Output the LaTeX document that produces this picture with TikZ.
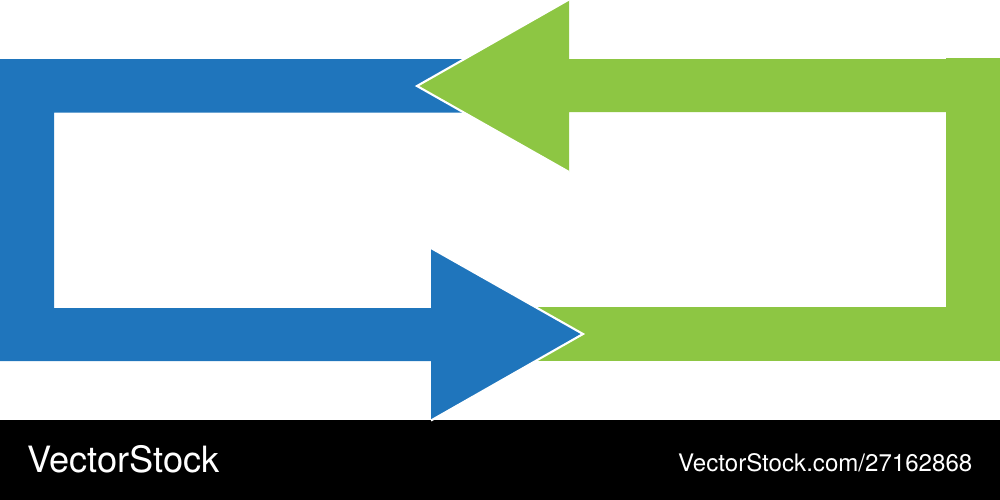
\documentclass[tikz,border=0pt]{standalone}
\usepackage{fontspec}
\setmainfont{TeX Gyre Heros}
\definecolor{arrowblue}{HTML}{1F75BC}
\definecolor{arrowgreen}{HTML}{8DC643}
\tikzstyle{edge} = [draw=white, line width=0.6pt, line join=miter]
\tikzset{
  mark label/.style ={text=white, inner sep=0pt, anchor=base west}
}

\begin{document}
\begin{tikzpicture}[line cap=butt,line join=miter,x=0.01cm,y=-0.01cm]
\useasboundingbox (0,0) rectangle (1000,500);
\fill[black] (0,420) rectangle (1000,500);
% green bar under the blue head
\fill[arrowgreen] (500,307) -- (1000,307) -- (1000,361) -- (500,361) -- cycle;
\fill[arrowblue] (0,59) -- (500,59) -- (500,112.5) -- (54,112.5) -- (54,308) -- (431,308) -- (431,248) -- (583,334) -- (431,420.5) -- (431,361) -- (0,361) -- cycle;
\draw[edge] (431,248) -- (583,334) -- (431,420.5);
\fill[arrowgreen] (417,86) -- (569,-0.5) -- (569,59) -- (946,59) -- (946,58) -- (1000,58) -- (1000,340) -- (946,340) -- (946,112) -- (569,112) -- (569,172) -- cycle;
\draw[edge] (569,-0.5) -- (417,86) -- (569,172);
\node[mark label,font=\fontsize{10.3pt}{12pt}\selectfont] (stockname) at (26.5,472) {VectorStock};
\node[mark label,font=\fontsize{6.85pt}{8pt}\selectfont] (stockurl) at (677.5,471) {VectorStock.com/27162868};
\end{tikzpicture}
\end{document}
